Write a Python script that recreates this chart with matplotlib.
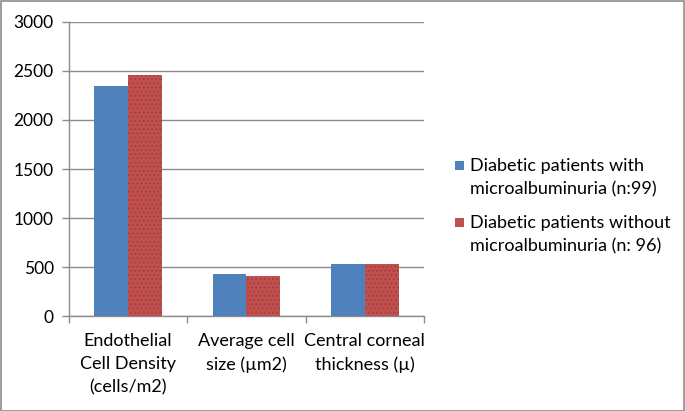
import matplotlib
matplotlib.use("Agg")
import matplotlib.pyplot as plt
from matplotlib.patches import Rectangle
import numpy as np

categories = ["Endothelial\nCell Density\n(cells/m2)", "Average cell\nsize (\u00b5m2)", "Central corneal\nthickness (\u00b5)"]
series_names = ["Diabetic patients with\nmicroalbuminuria (n:99)", "Diabetic patients without\nmicroalbuminuria (n: 96)"]
with_micro = [2345, 432, 535]
without_micro = [2455, 405, 535]
yticks = [0, 500, 1000, 1500, 2000, 2500, 3000]
colors = ['#4F81BD', '#C0504D']

plt.rcParams['font.family'] = ['Lato', 'DejaVu Sans']
plt.rcParams['hatch.linewidth'] = 0.6

W, H = 685, 411
fig = plt.figure(figsize=(W / 100, H / 100), dpi=100)
fig.patches.append(Rectangle((0.001, 0.001), 0.997, 0.996, transform=fig.transFigure,
                             fill=False, edgecolor='#8c8c8c', linewidth=1.2))
ax = fig.add_axes([0.1007, 0.2311, 0.5183, 0.7154])

x = np.arange(len(categories))
bw = 0.286
ax.bar(x - bw/2, with_micro, bw, color=colors[0], label=series_names[0], zorder=3)
ax.bar(x + bw/2, without_micro, bw, color=colors[1], edgecolor='#9a3c3a', linewidth=0,
       hatch='....', label=series_names[1], zorder=3)

ax.set_xlim(-0.5, 2.5)
ax.set_ylim(0, 3000)
ax.set_yticks(yticks)
ax.set_yticklabels([str(v) for v in yticks], fontsize=12.5)
ax.yaxis.grid(True, color='#8c8c8c', linewidth=1.0, zorder=0)
ax.set_axisbelow(True)

ax.set_xticks(x)
ax.set_xticklabels(categories, fontsize=13, linespacing=1.55)
ax.tick_params(axis='x', which='major', length=0, pad=12)
ax.set_xticks([-0.5, 0.5, 1.5, 2.5], minor=True)
ax.tick_params(axis='x', which='minor', length=5, color='#8c8c8c', width=1)
ax.tick_params(axis='y', length=5, color='#8c8c8c', width=1, pad=6)

for s in ['top', 'right']:
    ax.spines[s].set_visible(False)
for s in ['left', 'bottom']:
    ax.spines[s].set_color('#8c8c8c')
    ax.spines[s].set_linewidth(1)

# legend (manual, Excel style: marker aligned with first text line)
first_baselines = [171.5, 228.0]
line_gap = 23.0
for name, col, base in zip(series_names, colors, first_baselines):
    fig.text(470 / W, 1 - (base + line_gap) / H, name, fontsize=13, va='baseline',
             ha='left', linespacing=1.55)
    fig.patches.append(Rectangle((455 / W, 1 - (base - 1) / H), 9 / W, 9 / H,
                                 transform=fig.transFigure, facecolor=col,
                                 edgecolor='none'))

fig.savefig("out.png", dpi=100)
